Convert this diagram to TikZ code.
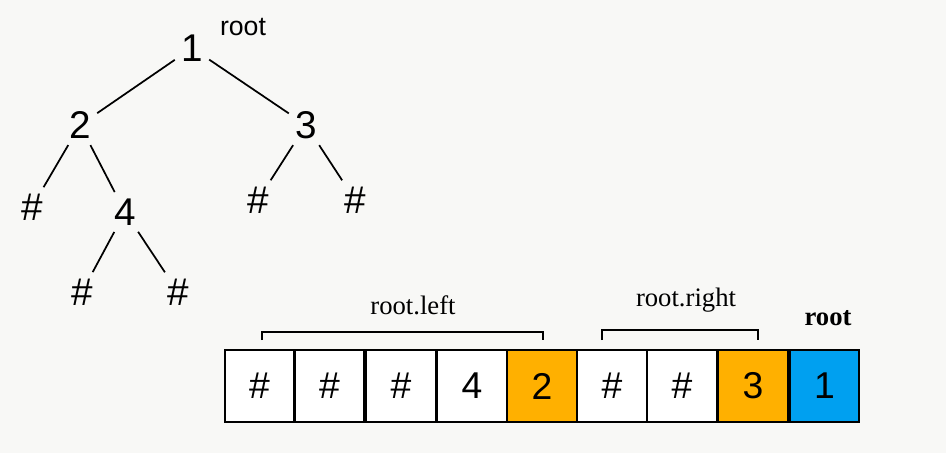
\documentclass[tikz,border=0pt]{standalone}
\usepackage{fontspec}
\setmainfont{Liberation Sans}
\newfontfamily\labfont{Liberation Serif}
\definecolor{bgcol}{HTML}{F8F8F6}
\definecolor{orangecell}{HTML}{FFB000}
\definecolor{bluecell}{HTML}{00A0F0}
\tikzset{
  tnode/.style={font=\fontsize{29}{31}\selectfont, inner sep=3pt},
  edge/.style={line width=1.3pt, shorten <=2pt, shorten >=2pt},
  cell/.style={draw, line width=1.5pt, minimum width=52pt, minimum height=54pt, inner sep=0pt, font=\fontsize{28}{30}\selectfont},
  lab/.style={font=\labfont\fontsize{20}{22}\selectfont},
  brace/.style={line width=1.2pt}
}
\begin{document}
\begin{tikzpicture}[x=0.75pt,y=-0.75pt]
    \fill[bgcol] (0,0) rectangle (946,453);
    \useasboundingbox (0,0) rectangle (946,453);

		% tree
		\node[tnode] (n1) at (192,48) {1};
		\node[font=\fontsize{20}{22}\selectfont] (rootlab) at (243,27) {root};
		\node[tnode] (n2) at (80,125) {2};
		\node[tnode] (n3) at (306,125) {3};
		\node[tnode] (h1) at (32,207) {\#};
		\node[tnode] (n4) at (125,212) {4};
		\node[tnode] (h2) at (258,200) {\#};
		\node[tnode] (h3) at (355,200) {\#};
		\node[tnode] (h4) at (82,292) {\#};
		\node[tnode] (h5) at (178,292) {\#};

		\draw[edge] (n1) -- (n2);
		\draw[edge] (n1) -- (n3);
		\draw[edge] (n2) -- (h1);
		\draw[edge] (n2) -- (n4);
		\draw[edge] (n3) -- (h2);
		\draw[edge] (n3) -- (h3);
		\draw[edge] (n4) -- (h4);
		\draw[edge] (n4) -- (h5);

		% array
		\node[cell, fill=white] (c1) at (259.5,386) {\#};
		\node[cell, fill=white] (c2) at (329.5,386) {\#};
		\node[cell, fill=white] (c3) at (401,386) {\#};
		\node[cell, fill=white] (c4) at (472,386) {4};
		\node[cell, fill=orangecell] (c5) at (542,386) {2};
		\node[cell, fill=white] (c6) at (612,386) {\#};
		\node[cell, fill=white] (c7) at (682,386) {\#};
		\node[cell, fill=orangecell] (c8) at (753,386) {3};
		\node[cell, fill=bluecell] (c9) at (824.5,386) {1};

		% brackets
		\coordinate (la) at (262,340);
		\coordinate (lb) at (543,340);
		\coordinate (ra) at (602,340);
		\coordinate (rb) at (758,340);
		\draw[brace] (la) -- ++(0,-8) -| (lb);
		\draw[brace] (ra) -- ++(0,-10) -| (rb);

		\node[lab] (leftlab) at (413,305) {root.left};
		\node[lab] (rightlab) at (686,300) {root.right};
		\node[lab] (toplab) at (828,318) {\textbf{root}};
\end{tikzpicture}
\end{document}
